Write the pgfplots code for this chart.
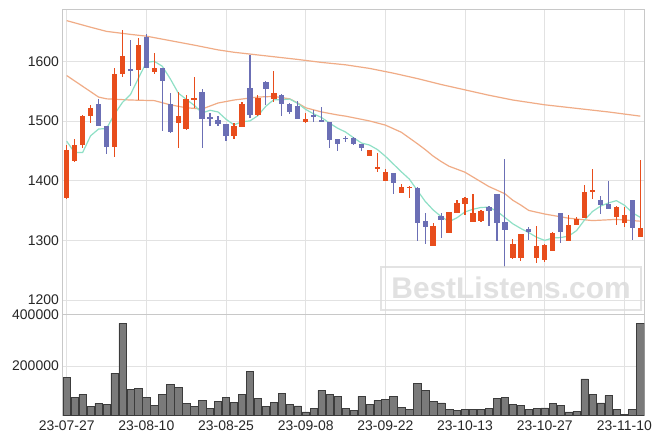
\documentclass[border=0pt]{standalone}
\usepackage{pgfplots}
\pgfplotsset{compat=1.18}
\usepackage{pgfplotstable}
\usepackage{fontspec}
\setmainfont{Liberation Sans}

\definecolor{upc}{HTML}{E84D1C}
\definecolor{dnc}{HTML}{6B6FB5}
\definecolor{ma5}{HTML}{8FE0C6}
\definecolor{malong}{HTML}{F0AC86}
\definecolor{gridc}{HTML}{E2E2E2}
\definecolor{axisc}{HTML}{C8C8C8}
\definecolor{volc}{HTML}{7A7A7A}
\definecolor{voledge}{HTML}{3C3C3C}
\definecolor{wm}{HTML}{DCDCDC}

% up candles: index open high low close
\pgfplotstableread{
i o h l c
0 1371 1460 1370 1452
1 1433 1470 1432 1459
2 1460 1510 1455 1509
3 1509 1526 1497 1521
6 1456 1589 1439 1579
7 1579 1653 1573 1608
9 1586 1639 1535 1628
11 1582 1613 1579 1588
14 1497 1548 1455 1509
15 1487 1543 1484 1536
16 1535 1573 1521 1538
21 1475 1496 1470 1491
22 1490 1531 1489 1529
24 1510 1543 1509 1539
26 1537 1584 1531 1546
30 1498 1514 1497 1503
38 1441 1452 1441 1451
39 1419 1446 1415 1423
40 1399 1420 1399 1415
42 1379 1394 1379 1389
43 1387 1391 1371 1390
46 1290 1329 1290 1324
48 1312 1348 1312 1347
49 1346 1368 1346 1362
50 1361 1372 1342 1371
51 1330 1378 1330 1346
52 1332 1351 1331 1349
56 1270 1302 1269 1293
57 1270 1311 1265 1310
59 1271 1324 1262 1290
60 1267 1294 1264 1292
61 1282 1314 1282 1313
63 1299 1343 1299 1326
64 1326 1339 1326 1336
65 1338 1392 1338 1381
66 1381 1420 1370 1384
69 1339 1357 1326 1355
70 1329 1355 1322 1343
72 1306 1434 1305 1320
}\up

% down candles
\pgfplotstableread{
i o h l c
4 1529 1537 1491 1491
5 1491 1492 1445 1456
8 1587 1636 1559 1585
10 1640 1646 1589 1589
12 1588 1588 1483 1567
13 1528 1546 1480 1481
17 1549 1553 1455 1503
18 1506 1514 1491 1503
19 1502 1508 1491 1495
20 1494 1495 1467 1475
23 1555 1610 1505 1510
25 1566 1567 1526 1554
27 1544 1545 1508 1529
28 1529 1530 1511 1515
29 1525 1533 1503 1503
31 1510 1519 1499 1508
32 1501 1524 1498 1498
33 1499 1499 1454 1468
34 1469 1469 1450 1461
35 1472 1474 1464 1470
36 1472 1473 1460 1461
37 1462 1462 1449 1454
41 1412 1412 1378 1396
44 1388 1389 1298 1329
45 1332 1346 1294 1322
47 1340 1345 1304 1334
53 1356 1357 1324 1349
54 1377 1378 1298 1329
55 1330 1437 1256 1318
58 1319 1323 1300 1314
62 1345 1345 1296 1314
67 1368 1374 1344 1359
68 1360 1399 1352 1353
71 1367 1367 1300 1321
}\dn

% 5-day average
\pgfplotstableread{
i v
0 1466
1 1447
2 1447
3 1475
4 1486.4
5 1487.2
6 1511.2
7 1531
8 1544
9 1571.4
10 1598
11 1599.8
12 1591.6
13 1570.6
14 1546.8
15 1536.2
16 1526.2
17 1513.4
18 1517.8
19 1515
20 1502.8
21 1493.4
22 1498.6
23 1500
24 1508.8
25 1524.6
26 1535.6
27 1535.6
28 1536.6
29 1529.4
30 1519.2
31 1511.8
32 1505.6
33 1496.2
34 1487.8
35 1481.4
36 1471.8
37 1463
38 1459.6
39 1452
40 1440.8
41 1427.8
42 1414.8
43 1402.6
44 1383.8
45 1365.2
46 1350.8
47 1339.8
48 1331.2
49 1337.8
50 1347.6
51 1352
52 1355
53 1355.4
54 1348.8
55 1338.2
56 1327.6
57 1319.8
58 1312.8
59 1305
60 1299.8
61 1303.8
62 1304.6
63 1307
64 1316.2
65 1334
66 1348.2
67 1357.2
68 1362.6
69 1366.4
70 1358.8
71 1346.2
72 1338.4
}\mafive

% 20-day average (read off)
\pgfplotstableread{
i v
0 1576
2 1558
4 1540
5 1537
8 1535
11 1534
13 1527
15 1522
17 1520
18 1525
19 1530
21 1535
24 1540
26 1541
28 1537
29 1530
30 1522
32 1515
34 1510
35 1508
38 1500
40 1493
42 1481
44 1462
45 1452
46 1441
47 1432
48 1424
49 1419
50 1414
51 1406
52 1398
53 1390
55 1378
56 1367
57 1359
58 1350
60 1344
63 1337
66 1333
69 1335
72 1332
}\matwenty

% long average (read off)
\pgfplotstableread{
i v
0 1668
3 1657
5 1650
8 1645
10 1642
12 1637
14 1632
16 1627
19 1619
21 1615
25 1609
29 1603
32 1598
35 1594
38 1588
41 1580
44 1571
47 1561
50 1552
53 1543
56 1535
60 1527
64 1521
68 1515
72 1508
}\malong

% volume
\pgfplotstableread{
i v
0 155000
1 78000
2 90000
3 42000
4 55000
5 52000
6 172000
7 365000
8 110000
9 113000
10 78000
11 47000
12 90000
13 130000
14 118000
15 55000
16 43000
17 67000
18 35000
19 62000
20 78000
21 60000
22 90000
23 180000
24 73000
25 43000
26 58000
27 95000
28 52000
29 45000
30 22000
31 35000
32 105000
33 90000
34 82000
35 35000
36 27000
37 82000
38 52000
39 67000
40 70000
41 82000
42 40000
43 32000
44 133000
45 105000
46 62000
47 57000
48 32000
49 28000
50 32000
51 32000
52 32000
53 35000
54 73000
55 77000
56 52000
57 48000
58 32000
59 35000
60 38000
61 55000
62 48000
63 22000
64 25000
65 150000
66 90000
67 57000
68 85000
69 32000
70 12000
71 32000
72 365000
}\vol

\pgfplotsset{
  panel/.style={
    scale only axis, width=582bp,
    xmin=-0.55, xmax=72.5,
    xtick={0,10,...,70},
    grid=major,
    major grid style={draw=gridc, line width=0.6bp},
    axis line style={draw=axisc, line width=0.6bp},
    major tick length=0pt,
    tick label style={font=\fontsize{14}{16}\selectfont, text=black!85},
    /pgf/number format/assume math mode=true,
    /pgf/number format/1000 sep={},
  },
}

\begin{document}
\begin{tikzpicture}
\fill[white] (-62.3bp,-29bp) rectangle (600.7bp,415bp);

\begin{axis}[panel, at={(0,0)}, anchor=south west, height=100.7bp,
  ymin=10000, ymax=400000, ytick={200000,400000},
  scaled y ticks=false,
  yticklabel style={/pgf/number format/fixed},
  xticklabel style={yshift=-2.5bp},
  xticklabels={23-07-27,23-08-10,23-08-25,23-09-08,23-09-22,23-10-13,23-10-27,23-11-10},
]
\addplot[ybar, bar width=7.3bp, fill=volc, draw=voledge, line width=0.5bp] table[x=i, y=v] {\vol};
\end{axis}

\begin{axis}[panel, at={(0,100.7bp)}, anchor=south west, height=305bp,
  ymin=1176, ymax=1687, ytick={1200,1300,1400,1500,1600},
  xticklabels={},
]
\addplot[malong, line width=1.2bp, mark=none] table[x=i, y=v] {\malong};
\addplot[malong, line width=1.2bp, mark=none] table[x=i, y=v] {\matwenty};
\addplot[ma5, line width=1.2bp, mark=none] table[x=i, y=v] {\mafive};

% wicks
\addplot[draw=none, mark=none, error bars/.cd, y dir=both, y explicit, error mark=none,
  error bar style={draw=upc, line width=1.2bp}]
  table[x=i, y expr=(\thisrow{h}+\thisrow{l})/2, y error expr=(\thisrow{h}-\thisrow{l})/2] {\up};
\addplot[draw=none, mark=none, error bars/.cd, y dir=both, y explicit, error mark=none,
  error bar style={draw=dnc, line width=1.2bp}]
  table[x=i, y expr=(\thisrow{h}+\thisrow{l})/2, y error expr=(\thisrow{h}-\thisrow{l})/2] {\dn};
% bodies
\addplot[draw=none, mark=none, error bars/.cd, y dir=both, y explicit, error mark=none,
  error bar style={draw=upc, line width=5.4bp}]
  table[x=i, y expr=(\thisrow{o}+\thisrow{c})/2, y error expr={max(abs(\thisrow{c}-\thisrow{o})/2,1)}] {\up};
\addplot[draw=none, mark=none, error bars/.cd, y dir=both, y explicit, error mark=none,
  error bar style={draw=dnc, line width=5.4bp}]
  table[x=i, y expr=(\thisrow{o}+\thisrow{c})/2, y error expr={max(abs(\thisrow{c}-\thisrow{o})/2,1)}] {\dn};

% watermark
\draw[wm, line width=2bp, opacity=0.8] (rel axis cs:0.548,0.014) rectangle (rel axis cs:0.9935,0.155);
\node[text=wm, opacity=0.85, font=\fontsize{30}{32}\selectfont\bfseries] at (rel axis cs:0.771,0.086) {BestListens.com};
\end{axis}
\end{tikzpicture}
\end{document}
